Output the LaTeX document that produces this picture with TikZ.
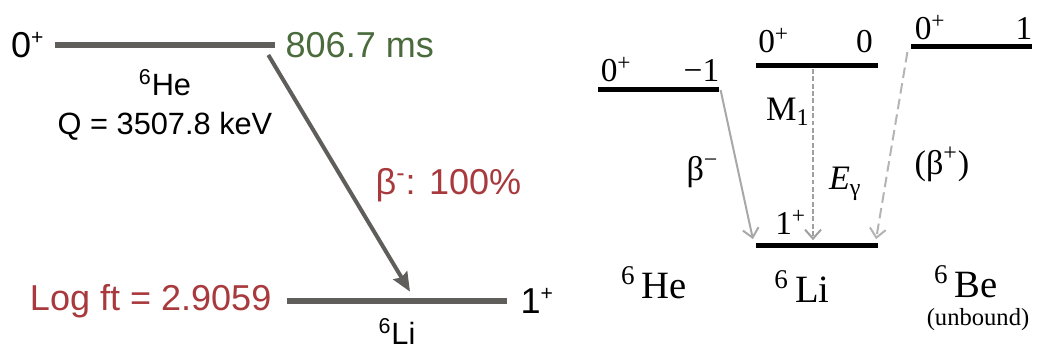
\documentclass[tikz,border=0pt]{standalone}
\usepackage{fontspec}
\setmainfont{Liberation Serif}
\newfontfamily\helv{Liberation Sans}
\usetikzlibrary{positioning,arrows.meta}

\definecolor{bargray}{HTML}{5F5E5A}
\definecolor{timegreen}{HTML}{4A6B3C}
\definecolor{decayred}{HTML}{A8393D}
\definecolor{solidgray}{HTML}{A8A8A8}
\definecolor{dashgray}{HTML}{A0A0A0}
\definecolor{palegray}{HTML}{B4B4B4}

\newcommand\sansplus{\textsuperscript{\fontsize{12}{12}\selectfont +}}

\tikzset{
  lvl/.style={fill=bargray, inner sep=0, minimum height=0.12cm, minimum width=4.4cm},
  lvr/.style={fill=black, inner sep=0, minimum height=0.1cm, minimum width=2.43cm},
  sanslbl/.style={inner sep=0, font=\helv\fontsize{20.5}{24}\selectfont},
  sanssmall/.style={inner sep=0, font=\helv\fontsize{17.5}{21}\selectfont},
  spinlbl/.style={inner sep=0, font=\fontsize{19}{22}\selectfont},
  seriflbl/.style={inner sep=0, font=\fontsize{19.5}{23}\selectfont},
  nuclbl/.style={inner sep=0, anchor=base, font=\fontsize{22}{26}\selectfont},
  decay/.style={bargray, line width=0.08cm, -{Stealth[length=0.38cm, width=0.32cm, inset=0.05cm]}},
  trans/.style={line width=0.04cm, -{Straight Barb[length=0.18cm, width=0.32cm]}}
}

\begin{document}
\begin{tikzpicture}[x=0.02cm, y=-0.02cm]
\useasboundingbox (0,0) rectangle (1037,347);

% left: decay scheme
\node[lvl] (heL) at (165,45) {};
\node[lvl] (liL) at (397,301) {};

\node[sanslbl, left=0.2cm of heL] (spinHe) {0\sansplus};
\node[sanslbl, right=0.2cm of heL, text=timegreen] (halflife) {806.7 ms};
\node[sanssmall, below=0.42cm of heL] (nucHe) {\textsuperscript{6}He};
\node[sanssmall, below=0.3cm of nucHe] (qval) {Q = 3507.8 keV};
\node[sanslbl, left=0.3cm of liL, text=decayred] (logft) {Log ft = 2.9059};
\node[sanslbl, right=0.26cm of liL] (spinLi) {1\sansplus};
\node[sanssmall, below=0.28cm of liL] (nucLi) {\textsuperscript{6}Li};

\draw[decay] ([xshift=-0.14cm, yshift=-0.2cm]heL.east) -- ([xshift=0.26cm, yshift=0.12cm]liL.north)
  node[sanslbl, pos=0.55, right=0.55cm, text=decayred] (branch) {β\textsuperscript{-}: 100\%};

% right: isobaric triplet
\node[lvr] (heR) at (658.5,90) {};
\node[lvr] (liU) at (817,66) {};
\node[lvr] (beR) at (971.5,47) {};
\node[lvr] (liD) at (817,246) {};

\node[spinlbl, above right=0.1cm and 0.06cm of heR.north west] (jHe) {0\textsuperscript{+}};
\node[spinlbl, above left=0.1cm and 0cm of heR.north east] (tHe) {−1};
\node[spinlbl, above right=0.2cm and 0.04cm of liU.north west] (jLiU) {0\textsuperscript{+}};
\node[spinlbl, above left=0.2cm and 0.1cm of liU.north east] (tLiU) {0};
\node[spinlbl, above right=0.08cm and 0.08cm of beR.north west] (jBe) {0\textsuperscript{+}};
\node[spinlbl, above left=0.08cm and 0cm of beR.north east] (tBe) {1};
\node[spinlbl, above right=0.16cm and 0.38cm of liD.north west] (jLiD) {1\textsuperscript{+}};

\draw[trans, solidgray] ([xshift=0.02cm]heR.east) -- ([xshift=-0.06cm, yshift=0.08cm]liD.north west)
  node[seriflbl, pos=0.55, left=0.38cm, text=black] (bminus) {β\textsuperscript{−}};
\draw[trans, dashgray, dash pattern=on 2.8pt off 1.4pt] ([xshift=-0.08cm]liU.south) -- ([xshift=-0.08cm, yshift=0.06cm]liD.north)
  node[seriflbl, pos=0.25, left=0.05cm, text=black] (mone) {M\textsubscript{1}}
  node[seriflbl, pos=0.67, right=0.3cm, text=black] (egam) {\textit{E}\textsubscript{γ}};
\draw[trans, palegray, dash pattern=on 6pt off 3pt] ([xshift=-0.06cm, yshift=-0.1cm]beR.west) -- ([xshift=-0.04cm, yshift=0.08cm]liD.north east)
  node[seriflbl, pos=0.6, right=0.5cm, text=black] (bplus) {(β\textsuperscript{+})};

\node[nuclbl] (nucHeR) at (654,298) {\textsuperscript{6}\,He};
\node[nuclbl] (nucLiR) at (802,302) {\textsuperscript{6}\,Li};
\node[nuclbl] (nucBeR) at (966,297) {\textsuperscript{6}\,Be};
\node[inner sep=0, anchor=base, font=\fontsize{14}{16}\selectfont] (unbound) at (978,325) {(unbound)};
\end{tikzpicture}
\end{document}
